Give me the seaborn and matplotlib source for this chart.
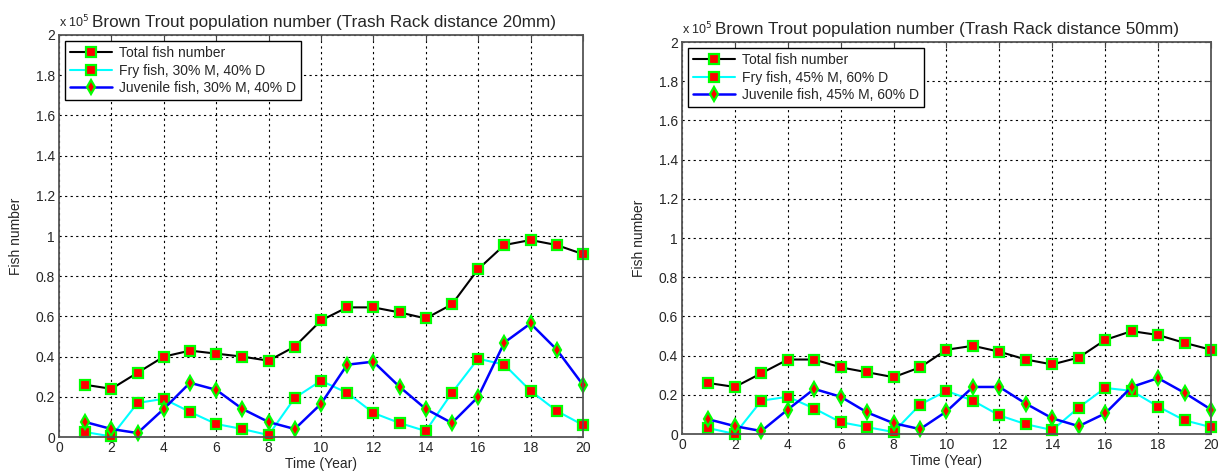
import matplotlib
matplotlib.use("Agg")
import matplotlib.pyplot as plt
import seaborn as sns
import pandas as pd

# --- DATA (fish numbers in units of 1e5) ---
years = list(range(1, 21))

total_20 = [0.26, 0.24, 0.32, 0.40, 0.43, 0.415, 0.40, 0.38, 0.45, 0.58,
            0.645, 0.645, 0.62, 0.59, 0.66, 0.835, 0.955, 0.98, 0.955, 0.91]
fry_20 = [0.025, 0.003, 0.17, 0.19, 0.125, 0.065, 0.04, 0.01, 0.195, 0.28,
          0.22, 0.12, 0.07, 0.03, 0.22, 0.39, 0.36, 0.23, 0.13, 0.06]
juv_20 = [0.075, 0.04, 0.02, 0.14, 0.27, 0.235, 0.14, 0.075, 0.04, 0.165,
          0.36, 0.375, 0.25, 0.14, 0.07, 0.20, 0.47, 0.565, 0.435, 0.26]

total_50 = [0.26, 0.24, 0.31, 0.38, 0.38, 0.34, 0.315, 0.29, 0.34, 0.43,
            0.45, 0.42, 0.38, 0.355, 0.39, 0.48, 0.525, 0.505, 0.465, 0.43]
fry_50 = [0.03, 0.0, 0.17, 0.19, 0.13, 0.06, 0.035, 0.01, 0.15, 0.22,
          0.17, 0.095, 0.05, 0.02, 0.135, 0.235, 0.22, 0.14, 0.07, 0.035]
juv_50 = [0.075, 0.04, 0.015, 0.125, 0.23, 0.19, 0.11, 0.055, 0.025, 0.115,
          0.24, 0.24, 0.155, 0.08, 0.04, 0.105, 0.24, 0.285, 0.21, 0.125]

titles = ["Brown Trout population number (Trash Rack distance 20mm)",
          "Brown Trout population number (Trash Rack distance 50mm)"]
labels_20 = ["Total fish number", "Fry fish, 30% M, 40% D", "Juvenile fish, 30% M, 40% D"]
labels_50 = ["Total fish number", "Fry fish, 45% M, 60% D", "Juvenile fish, 45% M, 60% D"]

x_ticks = list(range(0, 21, 2))
y_ticks = [0, 0.2, 0.4, 0.6, 0.8, 1.0, 1.2, 1.4, 1.6, 1.8, 2.0]
y_ticklabels = ["0", "0.2", "0.4", "0.6", "0.8", "1", "1.2", "1.4", "1.6", "1.8", "2"]

# --- STYLE ---
sns.set_style("white")
plt.rcParams['font.family'] = ['Liberation Sans', 'DejaVu Sans']

LINE_COLORS = ["black", "#00ffff", "#0000ff"]
LINE_WIDTHS = [1.5, 1.5, 1.8]
MARKERS = ["s", "s", "d"]
MARKER_SIZES = [7, 7, 7]


def draw_panel(ax, series, labels, title):
    for vals, lab, col, lw, mk, ms in zip(series, labels, LINE_COLORS, LINE_WIDTHS, MARKERS, MARKER_SIZES):
        df = pd.DataFrame({"year": years, "value": vals})
        sns.lineplot(data=df, x="year", y="value", ax=ax, color=col, linewidth=lw,
                     marker=mk, markersize=ms, markerfacecolor="#ff0000",
                     markeredgecolor="#00ff00", markeredgewidth=1.6, label=lab,
                     clip_on=False)

    ax.set_xlim(0, 20)
    ax.set_ylim(0, 2)
    ax.set_xticks(x_ticks)
    ax.set_yticks(y_ticks)
    ax.set_yticklabels(y_ticklabels)
    ax.tick_params(direction="in", length=4, top=True, right=True, labelsize=10,
                   color="#444444", pad=3)
    ax.grid(True, color="black", linestyle=(0, (2, 3)), linewidth=0.8)
    for sp in ax.spines.values():
        sp.set_color("#555555")
        sp.set_linewidth(1.3)
    ax.set_xlabel("Time (Year)", fontsize=10, labelpad=1)
    ax.set_ylabel("Fish number", fontsize=10, labelpad=9)
    ax.text(0.0, 1.012, r"x 10$^5$", transform=ax.transAxes, fontsize=9,
            ha="left", va="bottom")
    ax.text(0.063, 1.012, title, transform=ax.transAxes, fontsize=12.3,
            ha="left", va="bottom")

    leg = ax.legend(loc="upper left", fontsize=10, frameon=True, fancybox=False,
                    borderpad=0.35, handlelength=3.0, handletextpad=0.5,
                    labelspacing=0.25, borderaxespad=0.45)
    leg.get_frame().set_edgecolor("black")
    leg.get_frame().set_linewidth(1.0)
    leg.get_frame().set_alpha(1.0)


fig = plt.figure(figsize=(12.19, 4.72), dpi=100)
ax1 = fig.add_axes([0.0484, 0.074, 0.4298, 0.852])
ax2 = fig.add_axes([0.5595, 0.0805, 0.4339, 0.8305])

draw_panel(ax1, [total_20, fry_20, juv_20], labels_20, titles[0])
draw_panel(ax2, [total_50, fry_50, juv_50], labels_50, titles[1])

fig.savefig("out.png", dpi=100)
